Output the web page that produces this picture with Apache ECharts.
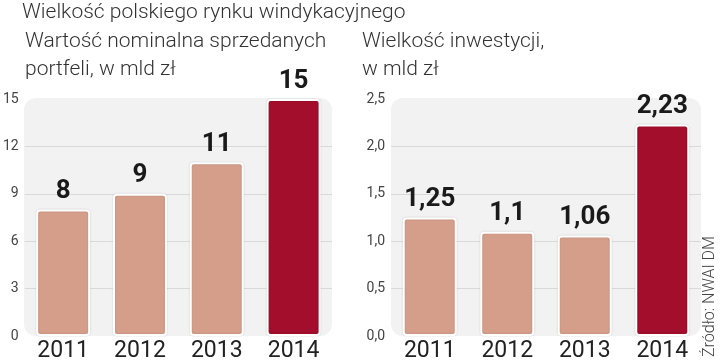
<!DOCTYPE html>
<html>
<head>
<meta charset="utf-8">
<script src="https://cdn.jsdelivr.net/npm/echarts@6/dist/echarts.min.js"></script>
<style>
html,body{margin:0;padding:0;background:#fff;}
#c{width:720px;height:364px;}
</style>
</head>
<body>
<div id="c"></div>
<script>
const years = ['2011', '2012', '2013', '2014'];
const portfolioValues = [8, 9, 11, 15];
const investmentValues = [1.25, 1.1, 1.06, 2.23];
const leftAxisMax = 15, leftAxisStep = 3;
const rightAxisMax = 2.5, rightAxisStep = 0.5;
const mainTitle = 'Wielkość polskiego rynku windykacyjnego';
const leftSubtitle = ['Wartość nominalna sprzedanych', 'portfeli, w mld zł'];
const rightSubtitle = ['Wielkość inwestycji,', 'w mld zł'];
const sourceText = 'Źródło: NWAI DM';

const W = 720, H = 364;
const G1 = {left: 24, right: W - 332, top: 99, bottom: H - 336};
const G2 = {left: 391, right: W - 701, top: 99, bottom: H - 336};
const SALMON = '#d59e8a', DARK = '#a30e2c';
const lightFont = 'Roboto';
const boldFont = 'Roboto, sans-serif';

function comma(v) { return String(v).replace('.', ','); }

function bgRect(g) {
  return {
    type: 'rect', z: -10,
    shape: {x: g.left, y: g.top - 1, width: W - g.right - g.left, height: H - g.bottom - g.top + 1, r: 12},
    style: {fill: '#f2f2f2'}
  };
}
function txt(x, y, s, size, color, extra) {
  return Object.assign({
    type: 'text', x: x, y: y,
    style: {text: s, fontFamily: lightFont, fontWeight: 300, fontSize: size, fill: color, textVerticalAlign: 'middle'}
  }, extra || {});
}

const chart = echarts.init(document.getElementById('c'), null, {renderer: 'canvas'});

function yAxis(gi, max, step, fmt) {
  return {
    type: 'value', gridIndex: gi, min: 0, max: max, interval: step,
    axisLine: {show: false}, axisTick: {show: false},
    axisLabel: {color: '#444', fontFamily: lightFont, fontSize: 14, margin: 6, formatter: fmt},
    splitLine: {show: true, showMinLine: false, showMaxLine: false, lineStyle: {color: '#d9d9d9', width: 1}}
  };
}
function xAxis(gi) {
  return {
    type: 'category', gridIndex: gi, data: years,
    axisLine: {show: false}, axisTick: {show: false},
    axisLabel: {color: '#222', fontFamily: 'Roboto', fontSize: 23, margin: 4}
  };
}
function series(gi, values) {
  return {
    type: 'bar', xAxisIndex: gi, yAxisIndex: gi, barWidth: 54,
    data: values.map((v, i) => ({
      value: v,
      itemStyle: {color: i === values.length - 1 ? DARK : SALMON}
    })),
    itemStyle: {borderColor: '#ffffff', borderWidth: 2, borderRadius: 3,
      shadowColor: 'rgba(0,0,0,0.15)', shadowBlur: 2},
    label: {show: true, position: 'top', distance: 5, formatter: p => comma(p.value),
      fontFamily: boldFont, fontWeight: 'bold', fontSize: 26, color: '#1a1a1a'}
  };
}

chart.setOption({
  animation: false,
  backgroundColor: '#fff',
  grid: [G1, G2],
  xAxis: [xAxis(0), xAxis(1)],
  yAxis: [
    yAxis(0, leftAxisMax, leftAxisStep, v => String(v)),
    yAxis(1, rightAxisMax, rightAxisStep, v => comma(v.toFixed(1)))
  ],
  series: [series(0, portfolioValues), series(1, investmentValues)],
  graphic: [
    bgRect(G1), bgRect(G2),
    txt(22, 13, mainTitle, 21, '#333'),
    txt(25, 42, leftSubtitle[0], 21, '#333'),
    txt(25, 70, leftSubtitle[1], 21, '#333'),
    txt(362, 42, rightSubtitle[0], 21, '#333'),
    txt(362, 70, rightSubtitle[1], 21, '#333'),
    txt(710, 357, sourceText, 16, '#444', {rotation: Math.PI / 2})
  ]
});
</script>
</body>
</html>
